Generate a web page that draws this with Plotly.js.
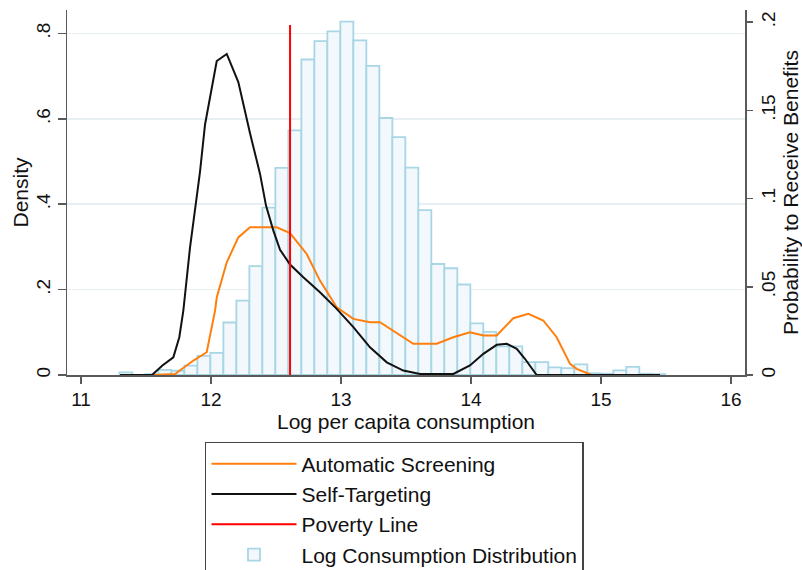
<!DOCTYPE html>
<html>
<head>
<meta charset="utf-8">
<script src="https://cdn.plot.ly/plotly-3.0.1.min.js"></script>
<style>html,body{margin:0;padding:0;background:#fff;}#chart{width:802px;height:570px;}</style>
</head>
<body>
<div id="chart"></div>
<script>
// Histogram of log per capita consumption (density, bin width ~0.1)
const binCenters = [11.345, 11.445, 11.545, 11.645, 11.745, 11.845, 11.945, 12.045, 12.145, 12.245,
  12.345, 12.445, 12.545, 12.645, 12.745, 12.845, 12.945, 13.045, 13.145, 13.245,
  13.345, 13.445, 13.545, 13.645, 13.745, 13.845, 13.945, 14.045, 14.145, 14.245,
  14.345, 14.445, 14.545, 14.645, 14.745, 14.845, 14.945, 15.045, 15.145, 15.245,
  15.345, 15.445];
const density = [0.006, 0, 0.002, 0.012, 0.010, 0.022, 0.045, 0.052, 0.123, 0.174,
  0.255, 0.392, 0.485, 0.573, 0.739, 0.782, 0.805, 0.828, 0.784, 0.724,
  0.602, 0.557, 0.486, 0.386, 0.260, 0.250, 0.212, 0.121, 0.101, 0.067,
  0.067, 0.030, 0.030, 0.018, 0.016, 0.025, 0.004, 0.003, 0.011, 0.019,
  0.003, 0.002];

// Probability to receive benefits: Automatic Screening
const autoX = [11.554, 11.723, 11.864, 11.967, 12.031, 12.044, 12.121, 12.21, 12.30, 12.40,
  12.505, 12.608, 12.736, 12.838, 12.967, 13.095, 13.223, 13.30, 13.402, 13.556,
  13.736, 13.864, 13.992, 14.095, 14.198, 14.325, 14.441, 14.556, 14.659, 14.762,
  14.813, 14.928];
const autoY = [0, 0.0006, 0.0082, 0.0129, 0.0365, 0.0439, 0.0639, 0.078, 0.0837, 0.0838,
  0.0837, 0.0804, 0.0686, 0.0535, 0.0384, 0.0318, 0.0299, 0.0299, 0.0252, 0.0177,
  0.0177, 0.0214, 0.0242, 0.0224, 0.0224, 0.0322, 0.0347, 0.0309, 0.0214, 0.0063,
  0.0035, 0];

// Probability to receive benefits: Self-Targeting
const selfX = [11.30, 11.546, 11.626, 11.71, 11.756, 11.787, 11.838, 11.877, 11.915, 11.954,
  12.044, 12.121, 12.21, 12.30, 12.377, 12.423, 12.479, 12.531, 12.608, 12.71,
  12.838, 12.967, 13.095, 13.223, 13.352, 13.479, 13.608, 13.864, 13.992, 14.095,
  14.198, 14.275, 14.352, 14.415, 14.505, 15.454];
const selfY = [0, 0, 0.0054, 0.010, 0.0214, 0.0365, 0.072, 0.093, 0.115, 0.142,
  0.178, 0.182, 0.166, 0.137, 0.114, 0.096, 0.082, 0.071, 0.0626, 0.0554,
  0.0469, 0.0375, 0.0271, 0.0157, 0.0072, 0.0025, 0.0006, 0.0006, 0.0054, 0.012,
  0.0171, 0.0177, 0.0148, 0.0092, 0, 0];

// Poverty line
const povertyX = [12.608, 12.608];
const povertyY = [0, 0.1984];

const xTicks = [11, 12, 13, 14, 15, 16];
const yLeftTicks = [0, 0.2, 0.4, 0.6, 0.8];
const yLeftText = ["0", ".2", ".4", ".6", ".8"];
const yRightTicks = [0, 0.05, 0.1, 0.15, 0.2];
const yRightText = ["0", ".05", ".1", ".15", ".2"];

const FONT = "Liberation Sans, Arial, sans-serif";
const AX = "#5a5a5a";

const traces = [
  {type: "bar", x: binCenters, y: density, width: 0.0998, name: "Log Consumption Distribution",
   marker: {color: "#f2f8fc", line: {color: "#a9d6e5", width: 1.8}}, yaxis: "y",
   legendrank: 4, legendgroup: "d", hoverinfo: "skip"},
  {type: "scatter", mode: "lines", x: autoX, y: autoY, name: "Automatic Screening",
   line: {color: "#ff7f0e", width: 2}, yaxis: "y2", legendrank: 1, legendgroup: "a"},
  {type: "scatter", mode: "lines", x: selfX, y: selfY, name: "Self-Targeting",
   line: {color: "#111111", width: 2}, yaxis: "y2", legendrank: 2, legendgroup: "b"},
  {type: "scatter", mode: "lines", x: povertyX, y: povertyY, name: "Poverty Line",
   line: {color: "#ff0000", width: 2}, yaxis: "y2", legendrank: 3, legendgroup: "c"}
];

const layout = {
  width: 802, height: 570,
  margin: {l: 67, r: 57, t: 9.5, b: 195, autoexpand: false},
  paper_bgcolor: "#ffffff", plot_bgcolor: "#ffffff",
  font: {family: FONT, color: "#111", size: 20},
  bargap: 0,
  showlegend: true,
  legend: {
    xref: "container", yref: "container", x: 0.2556, y: 0.2246, xanchor: "left", yanchor: "top",
    bordercolor: "#444", borderwidth: 1.5, bgcolor: "#fff",
    font: {family: FONT, size: 21, color: "#111"},
    itemwidth: 85, traceorder: "grouped", tracegroupgap: 0
  },
  xaxis: {
    range: [10.892, 16.108], tickvals: xTicks, ticktext: xTicks.map(String),
    ticks: "outside", ticklen: 7, tickwidth: 1.5, tickcolor: AX,
    showline: true, linecolor: AX, linewidth: 1.5, showgrid: false, zeroline: false,
    tickfont: {size: 19}, automargin: false,
    title: {text: "Log per capita consumption", font: {size: 21}, standoff: 2}
  },
  yaxis: {
    range: [0, 0.855], tickvals: yLeftTicks, ticktext: yLeftText, tickangle: -90,
    ticks: "outside", ticklen: 8, tickwidth: 1.5, tickcolor: AX,
    showline: true, linecolor: AX, linewidth: 1.5,
    showgrid: true, gridcolor: "#e7eff2", gridwidth: 1.5, zeroline: false,
    tickfont: {size: 19}, automargin: false
  },
  yaxis2: {
    overlaying: "y", side: "right", range: [0, 0.2069],
    tickvals: yRightTicks, ticktext: yRightText, tickangle: -90,
    ticks: "outside", ticklen: 6, tickwidth: 1.5, tickcolor: AX,
    showline: true, linecolor: AX, linewidth: 1.5, showgrid: false, zeroline: false,
    tickfont: {size: 19}, automargin: false,
    title: {text: "Probability to Receive Benefits", font: {size: 21}, standoff: 4}
  },
  annotations: [
    {text: "Density", xref: "paper", yref: "paper", x: -0.0693, y: 0.5,
     xanchor: "center", yanchor: "middle", textangle: -90, showarrow: false,
     font: {family: FONT, size: 21, color: "#111"}}
  ]
};

Plotly.newPlot("chart", traces, layout, {displayModeBar: false, staticPlot: true});
</script>
</body>
</html>
